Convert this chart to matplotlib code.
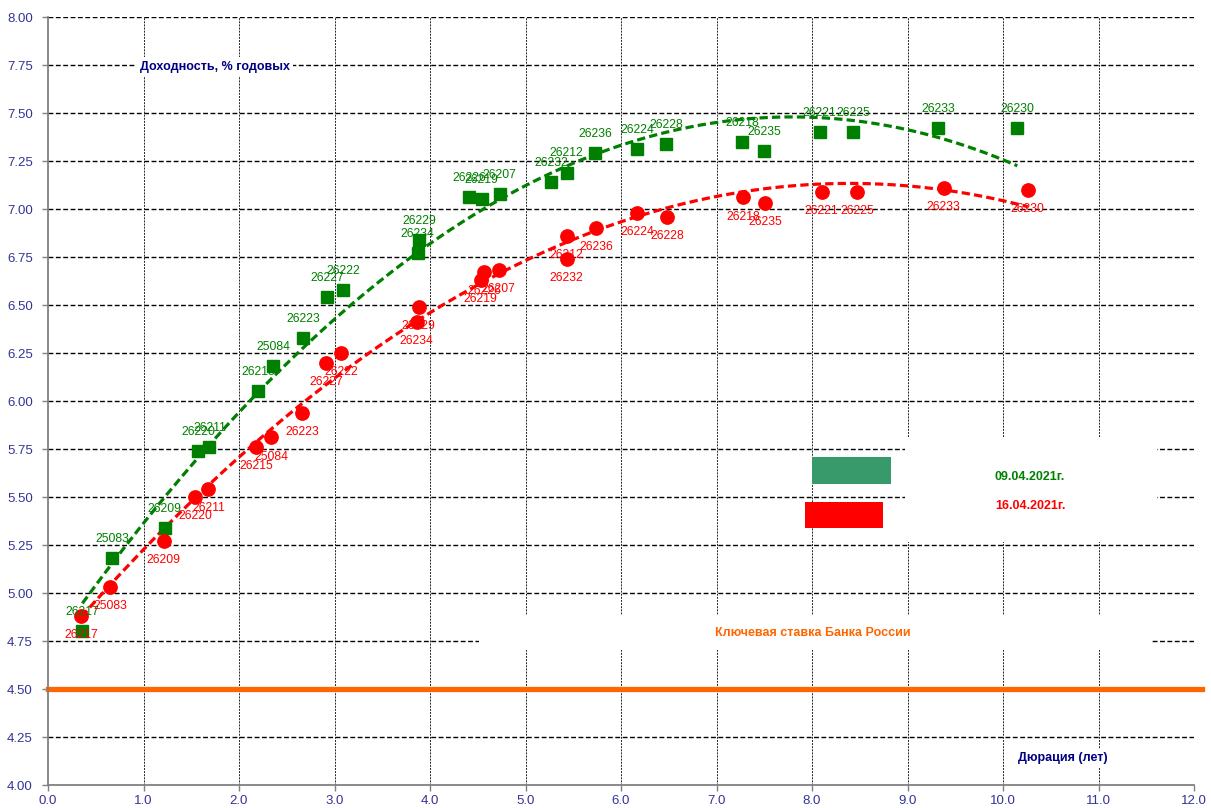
import numpy as np
import matplotlib
matplotlib.use("Agg")
import matplotlib.pyplot as plt
from matplotlib.patches import Rectangle

plt.rcParams['font.family'] = ['Liberation Sans', 'DejaVu Sans']

# ---- data ----
green_names = ['26217', '25083', '26209', '26220', '26211', '26215', '25084', '26223',
               '26227', '26222', '26234', '26229', '26226', '26219', '26207', '26232',
               '26212', '26236', '26224', '26228', '26218', '26235', '26221', '26225',
               '26233', '26230']
green_dur = [0.36, 0.67, 1.22, 1.57, 1.69, 2.20, 2.36, 2.67, 2.92, 3.09, 3.87, 3.89, 4.41,
             4.54, 4.73, 5.27, 5.43, 5.73, 6.17, 6.47, 7.27, 7.50, 8.08, 8.43, 9.32, 10.15]
green_yld = [4.80, 5.18, 5.34, 5.74, 5.76, 6.05, 6.18, 6.33, 6.54, 6.58, 6.77, 6.84, 7.06,
             7.05, 7.08, 7.14, 7.19, 7.29, 7.31, 7.34, 7.35, 7.30, 7.40, 7.40, 7.42, 7.42]

red_names = ['26217', '25083', '26209', '26220', '26211', '26215', '25084', '26223',
             '26227', '26222', '26234', '26229', '26219', '26226', '26207', '26212',
             '26232', '26236', '26224', '26228', '26218', '26235', '26221', '26225',
             '26233', '26230']
red_dur = [0.35, 0.65, 1.21, 1.54, 1.68, 2.18, 2.34, 2.66, 2.91, 3.07, 3.86, 3.88, 4.53,
           4.57, 4.72, 5.43, 5.43, 5.74, 6.17, 6.48, 7.28, 7.51, 8.10, 8.47, 9.38, 10.26]
red_yld = [4.88, 5.03, 5.27, 5.50, 5.54, 5.76, 5.81, 5.94, 6.20, 6.25, 6.41, 6.49, 6.63,
           6.67, 6.68, 6.86, 6.74, 6.90, 6.98, 6.96, 7.06, 7.03, 7.09, 7.09, 7.11, 7.10]

key_rate = 4.50
date_green = '09.04.2021г.'
date_red = '16.04.2021г.'
x_ticks = np.arange(0, 12.01, 1.0)
y_ticks = np.arange(4.0, 8.001, 0.25)

GREEN = '#008000'
RED = '#FF0000'
NAVY = '#000080'
TICKC = '#333399'

fig = plt.figure(figsize=(12.11, 8.08), dpi=100)
ax = fig.add_axes([48 / 1211, 1 - 785 / 808, 1146 / 1211, 768 / 808])
ax.set_xlim(0, 12)
ax.set_ylim(4.0, 8.0)

# grid
ax.set_axisbelow(True)
for yv in y_ticks:
    if yv > 4.0:
        ax.axhline(yv, color='black', lw=1.0, dashes=(3.5, 1.8), zorder=0.5)
for xv in x_ticks:
    if xv > 0:
        ax.axvline(xv, color='#222222', lw=0.7, dashes=(2.0, 1.2), zorder=0.5)

for s in ['top', 'right']:
    ax.spines[s].set_visible(False)
for s in ['left', 'bottom']:
    ax.spines[s].set_color('#808080')
    ax.spines[s].set_linewidth(1.3)

ax.set_xticks(x_ticks)
ax.set_yticks(y_ticks)
ax.set_xticklabels([f'{v:.1f}' for v in x_ticks])
ax.set_yticklabels([f'{v:.2f}' for v in y_ticks])
ax.tick_params(axis='both', colors='#808080', labelcolor=TICKC, labelsize=9.5,
               length=4, width=1.0, direction='out')
ax.tick_params(axis='y', pad=7)
ax.tick_params(axis='x', pad=3)

# white boxes covering grid
ax.add_patch(Rectangle((0.748, 0.316), 0.220, 0.136, transform=ax.transAxes,
                       facecolor='white', edgecolor='none', zorder=1))
ax.add_patch(Rectangle((0.376, 0.176), 0.587, 0.045, transform=ax.transAxes,
                       facecolor='white', edgecolor='none', zorder=1))

# key rate
ax.axhline(key_rate, xmin=0, xmax=1.007, color='#FF6600', lw=3.8, zorder=2, clip_on=False)

# trend lines (2nd order polynomial fits)
for dur, yld, col in [(green_dur, green_yld, GREEN), (red_dur, red_yld, RED)]:
    c = np.polyfit(dur, yld, 2)
    xs = np.linspace(min(dur), max(dur), 200)
    ax.plot(xs, np.polyval(c, xs), color=col, lw=2.3, dashes=(2.6, 1.3), zorder=3)

# markers
ax.plot(green_dur, green_yld, linestyle='none', marker='s', ms=8.6, color=GREEN, zorder=4)
ax.plot(red_dur, red_yld, linestyle='none', marker='o', ms=9.6, color=RED, zorder=4)

# data labels
for n, x, y in zip(green_names, green_dur, green_yld):
    ax.annotate(n, (x, y), xytext=(0, 13.7), textcoords='offset points', ha='center',
                va='center', fontsize=8.7, color=GREEN, zorder=5)
for n, x, y in zip(red_names, red_dur, red_yld):
    ax.annotate(n, (x, y), xytext=(0, -13.7), textcoords='offset points', ha='center',
                va='center', fontsize=8.7, color=RED, zorder=5)

# legend patches and texts
ax.add_patch(Rectangle((0.6667, 0.392), 0.0689, 0.0352, transform=ax.transAxes,
                       facecolor='#38996B', edgecolor='none', zorder=6))
ax.add_patch(Rectangle((0.6606, 0.3346), 0.0681, 0.0339, transform=ax.transAxes,
                       facecolor=RED, edgecolor='none', zorder=6))
ax.text(0.857, 0.401, date_green, transform=ax.transAxes, ha='center', va='center',
        fontsize=9, fontweight='bold', color=GREEN, zorder=6)
ax.text(0.857, 0.363, date_red, transform=ax.transAxes, ha='center', va='center',
        fontsize=9, fontweight='bold', color=RED, zorder=6)

# annotations
ax.text(0.6675, 0.198, 'Ключевая ставка Банка России', transform=ax.transAxes,
        ha='center', va='center', fontsize=9, fontweight='bold', color='#FF6600', zorder=6)
ax.text(0.1457, 0.935, 'Доходность, % годовых', transform=ax.transAxes,
        ha='center', va='center', fontsize=9, fontweight='bold', color=NAVY, zorder=6,
        bbox=dict(facecolor='white', edgecolor='none', pad=2.5))
ax.text(0.8857, 0.035, 'Дюрация (лет)', transform=ax.transAxes,
        ha='center', va='center', fontsize=9, fontweight='bold', color=NAVY, zorder=6,
        bbox=dict(facecolor='white', edgecolor='none', pad=2.0))

fig.savefig('out.png', dpi=100)
